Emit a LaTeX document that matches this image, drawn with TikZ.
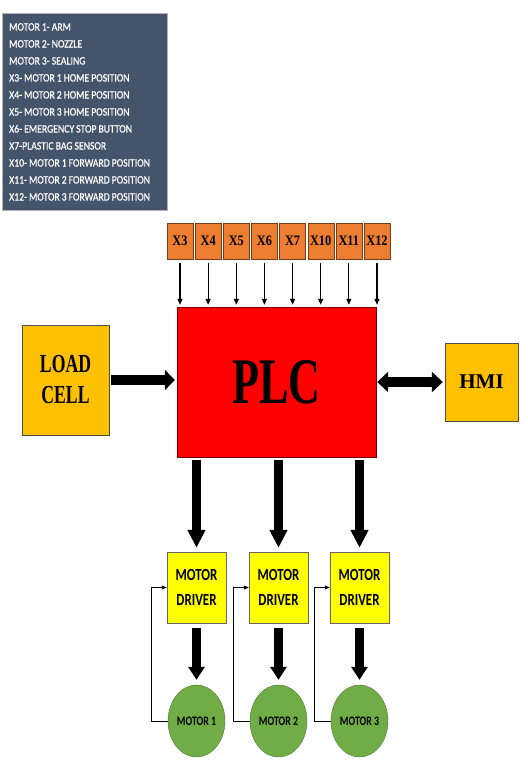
\documentclass[tikz,border=0pt]{standalone}
\usepackage{fontspec}
\usepackage{xcolor}
\setmainfont{Liberation Serif}
\newfontfamily\keyfont[FakeStretch=0.86,FakeBold=0.6]{Carlito}
\newfontfamily\drvfont[FakeStretch=0.76]{Carlito}
\newfontfamily\tallserif[FakeStretch=0.68]{Liberation Serif}
\newfontfamily\tagserif[FakeStretch=0.85]{Liberation Serif}
\usetikzlibrary{arrows.meta,positioning,shapes.geometric}
\definecolor{keyblue}{RGB}{68,84,106}
\definecolor{tagorange}{RGB}{237,125,49}
\definecolor{cellgold}{RGB}{255,192,0}
\definecolor{plcred}{RGB}{255,0,0}
\definecolor{drvyellow}{RGB}{255,255,0}
\definecolor{motorgreen}{RGB}{112,173,71}
\tikzset{
  keybox/.style={anchor=north west,draw=gray!60,fill=keyblue,text=white,inner xsep=7pt,inner ysep=10pt,
    text width=151pt,align=left,font=\keyfont\fontsize{11.3}{17}\selectfont},
  tagbox/.style={draw=tagorange!50!black,fill=tagorange,minimum width=26pt,minimum height=36pt,inner sep=0pt,
    font=\tagserif\bfseries\fontsize{14.5}{15}\selectfont},
  goldbox/.style={draw=black!70,fill=cellgold,inner sep=0pt,align=center},
  drvbox/.style={draw=black!60,fill=drvyellow,minimum width=59pt,minimum height=71pt,inner sep=0pt,align=center,
    font=\drvfont\bfseries\fontsize{17}{25}\selectfont},
  motornode/.style={ellipse,draw=motorgreen!70!black,fill=motorgreen,minimum width=57pt,minimum height=72pt,inner sep=0pt,
    font=\drvfont\bfseries\fontsize{13}{14}\selectfont},
  tagarrow/.style={line width=1.2pt,-{Triangle[width=5pt,length=6pt]},shorten <=4pt,shorten >=2pt},
  bigarrow/.style={line width=9pt,-{Triangle[width=17pt,length=18pt]}},
  fbline/.style={line width=0.9pt,-{Triangle[width=4pt,length=5pt]}}
}
\begin{document}
\begin{tikzpicture}[x=1pt,y=-1pt,>=Stealth]
	\useasboundingbox[fill=white] (0,0) rectangle (527,770);
	% legend
	\node[keybox] (key) at (2,13) {\hyphenpenalty=10000 \spaceskip=2pt\relax MOTOR 1- ARM\\ MOTOR 2- NOZZLE\\ MOTOR 3- SEALING\\
		X3- MOTOR 1 HOME POSITION\\ X4- MOTOR 2 HOME POSITION\\ X5- MOTOR 3 HOME POSITION\\
		X6- EMERGENCY STOP BUTTON\\ X7-PLASTIC BAG SENSOR\\ X10- MOTOR 1 FORWARD POSITION\\
		X11- MOTOR 2 FORWARD POSITION\\ X12- MOTOR 3 FORWARD POSITION};
	% PLC and the two side boxes
	\node[draw=plcred!45!black,fill=plcred,minimum width=199pt,minimum height=150pt,
		font=\tallserif\bfseries\fontsize{65}{65}\selectfont] (plc) at (276.5,382) {PLC};
	\node[goldbox,minimum width=87pt,minimum height=110pt,font=\tallserif\bfseries\fontsize{26}{31}\selectfont]
		(load) at (65.5,380) {LOAD\\ CELL};
	\node[goldbox,minimum width=73pt,minimum height=78pt,font=\bfseries\fontsize{21}{22}\selectfont]
		(hmi) at (481.5,382) {HMI};
	\draw[line width=10pt,-{Triangle[width=20pt,length=10pt]},shorten <=2pt,shorten >=2pt]
		(load.east) -- (load.east -| plc.west);
	\draw[line width=10pt,{Triangle[width=20pt,length=11pt]}-{Triangle[width=20pt,length=11pt]},shorten <=1pt,shorten >=2pt]
		(plc.east |- hmi.west) -- (hmi.west);
	% inputs
	\foreach \t [count=\i from 0] in {X3,X4,X5,X6,X7,X10,X11,X12}{
		\node[tagbox] (x\i) at (180+28.14*\i,241) {\t};
		\draw[tagarrow] (x\i.south) -- (x\i.south |- plc.north);
	}
	% drivers and motors
	\foreach \n/\x in {1/196.5,2/278.5,3/359.5}{
		\node[drvbox] (drv\n) at (\x,587.5) {MOTOR\\ DRIVER};
		\node[motornode] (mot\n) at (\x,721) {MOTOR \n};
		\draw[bigarrow,shorten <=3pt,shorten >=4pt] (drv\n.north |- plc.south) -- (drv\n.north);
		\draw[bigarrow,-{Triangle[width=16pt,length=13pt]},shorten <=5pt,shorten >=5pt] (drv\n.south) -- (mot\n.north);
		\draw[fbline] (mot\n.west) -- ++(-16,0) |- (drv\n.west);
	}
\end{tikzpicture}
\end{document}
